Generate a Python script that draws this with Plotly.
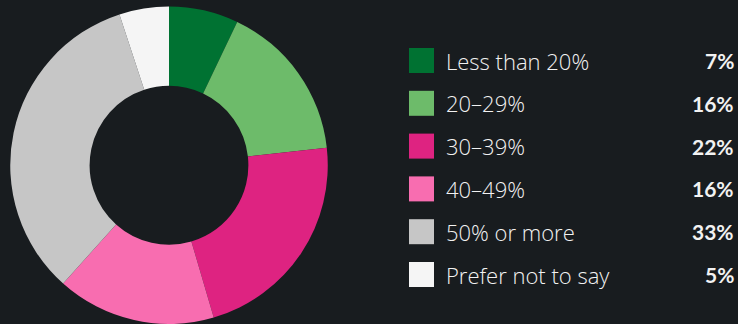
import plotly.graph_objects as go

# Share of respondents by band
categories = ["Less than 20%", "20–29%", "30–39%", "40–49%", "50% or more", "Prefer not to say"]
values = [7, 16, 22, 16, 33, 5]
colors = ["#007232", "#6dbb6a", "#de2381", "#f86db0", "#c6c6c6", "#f5f5f5"]

W, H = 738, 324
BG = "#181c1f"
TEXT = "#f2f2f2"

fig = go.Figure(
    go.Pie(
        labels=categories,
        values=values,
        hole=0.5,
        sort=False,
        direction="clockwise",
        rotation=0,
        marker=dict(colors=colors, line=dict(width=0)),
        textinfo="none",
        hoverinfo="label+percent",
        showlegend=False,
        domain=dict(x=[10 / W, 328 / W], y=[0, 0.98]),
    )
)

# Custom legend: swatch, label and value for each band
row0, row_gap = 60.5, 42.8
sw_x0, sw_x1, sw_half = 409, 434, 12.5
shapes, annotations = [], []
for i, (cat, val, col) in enumerate(zip(categories, values, colors)):
    cy = row0 + i * row_gap
    shapes.append(dict(
        type="rect", xref="paper", yref="paper",
        x0=sw_x0 / W, x1=sw_x1 / W,
        y0=1 - (cy + sw_half) / H, y1=1 - (cy - sw_half) / H,
        fillcolor=col, line=dict(width=0),
    ))
    annotations.append(dict(
        xref="paper", yref="paper", x=444 / W, y=1 - cy / H,
        xanchor="left", yanchor="middle", showarrow=False,
        text=cat, font=dict(family="Open Sans", size=22, color=TEXT, weight=300),
    ))
    annotations.append(dict(
        xref="paper", yref="paper", x=736 / W, y=1 - cy / H,
        xanchor="right", yanchor="middle", showarrow=False,
        text=f"<b>{val}%</b>", font=dict(family="Lato", size=21, color=TEXT),
    ))

fig.update_layout(
    width=W, height=H,
    margin=dict(l=0, r=0, t=0, b=0),
    paper_bgcolor=BG, plot_bgcolor=BG,
    shapes=shapes, annotations=annotations,
)

fig.write_html("out.html")
